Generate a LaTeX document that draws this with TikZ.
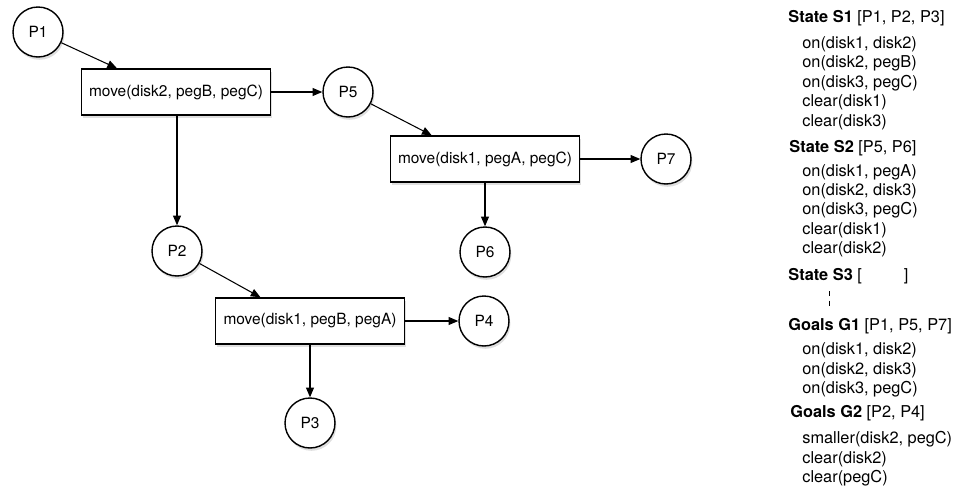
\documentclass[tikz,border=0pt]{standalone}
\usepackage{fontspec}
\setmainfont{TeX Gyre Heros}
\usetikzlibrary{shadows,calc,arrows.meta}
\tikzset{
	place/.style={circle,draw,line width=0.8pt,fill=white,minimum size=1cm,inner sep=0pt,
		font=\fontsize{8.8}{10}\selectfont,
		drop shadow={shadow xshift=0.8pt,shadow yshift=-1.6pt,opacity=0.25}},
	action/.style={rectangle,draw,line width=0.8pt,fill=white,minimum width=3.78cm,minimum height=0.92cm,
		inner sep=0pt,font=\fontsize{8.8}{10}\selectfont,
		drop shadow={shadow xshift=0.8pt,shadow yshift=-1.6pt,opacity=0.25}},
	flow/.style={line width=0.6pt,-{Triangle[length=5.5pt,width=4.5pt]}},
	head/.style={anchor=west,inner sep=0pt,font=\fontsize{9.3}{11}\selectfont},
	fact/.style={anchor=west,inner sep=0pt,font=\fontsize{9.3}{11}\selectfont}
}
\begin{document}
\begin{tikzpicture}[x=0.02cm,y=-0.02cm]
	\useasboundingbox (0,0) rectangle (956,490);
	\node[place] (P1) at (38,32) {P1};
	\node[action] (m1) at (176,92) {move(disk2, pegB, pegC)};
	\node[place] (P5) at (348,92) {P5};
	\node[action] (m2) at (485,159) {move(disk1, pegA, pegC)};
	\node[place] (P7) at (666,159) {P7};
	\node[place] (P6) at (485,252) {P6};
	\node[place] (P2) at (177,251) {P2};
	\node[action] (m3) at (310,321) {move(disk1, pegB, pegA)};
	\node[place] (P4) at (484,321) {P4};
	\node[place] (P3) at (310,423) {P3};
	\draw[flow] (P1) -- ($(m1.north west)!.19!(m1.north east)$);
	\draw[flow] (m1) -- (P5);
	\draw[flow] (m1.south -| P2) -- (P2);
	\draw[flow] (P5) -- ($(m2.north west)!.22!(m2.north east)$);
	\draw[flow] (m2) -- (P7);
	\draw[flow] (m2) -- (P6);
	\draw[flow] (P2) -- ($(m3.north west)!.24!(m3.north east)$);
	\draw[flow] (m3) -- (P4);
	\draw[flow] (m3) -- (P3);
	\node[head] (s1) at (788,18) {\textbf{State S1} [P1, P2, P3]};
	\foreach \t [count=\i] in {{on(disk1, disk2)},{on(disk2, pegB)},{on(disk3, pegC)},{clear(disk1)},{clear(disk3)}}
		\node[fact] (s1-\i) at (802,25+19.4*\i) {\t};
	\node[head] (s2) at (789,148) {\textbf{State S2} [P5, P6]};
	\foreach \t [count=\i] in {{on(disk1, pegA)},{on(disk2, disk3)},{on(disk3, pegC)},{clear(disk1)},{clear(disk2)}}
		\node[fact] (s2-\i) at (802,153+19.2*\i) {\t};
	\node[head] (s3) at (788,276) {\textbf{State S3} [\hspace{0.84cm}]};
	\draw[line width=0.5pt,dash pattern=on 3pt off 2.5pt] (829,291) -- (829,308);
	\node[head] (g1) at (788,326) {\textbf{Goals G1} [P1, P5, P7]};
	\foreach \t [count=\i] in {{on(disk1, disk2)},{on(disk2, disk3)},{on(disk3, pegC)}}
		\node[fact] (g1-\i) at (802,331+19.4*\i) {\t};
	\node[head] (g2) at (790,413) {\textbf{Goals G2} [P2, P4]};
	\foreach \t [count=\i] in {{smaller(disk2, pegC)},{clear(disk2)},{clear(pegC)}}
		\node[fact] (g2-\i) at (802,420+19.4*\i) {\t};
\end{tikzpicture}
\end{document}
